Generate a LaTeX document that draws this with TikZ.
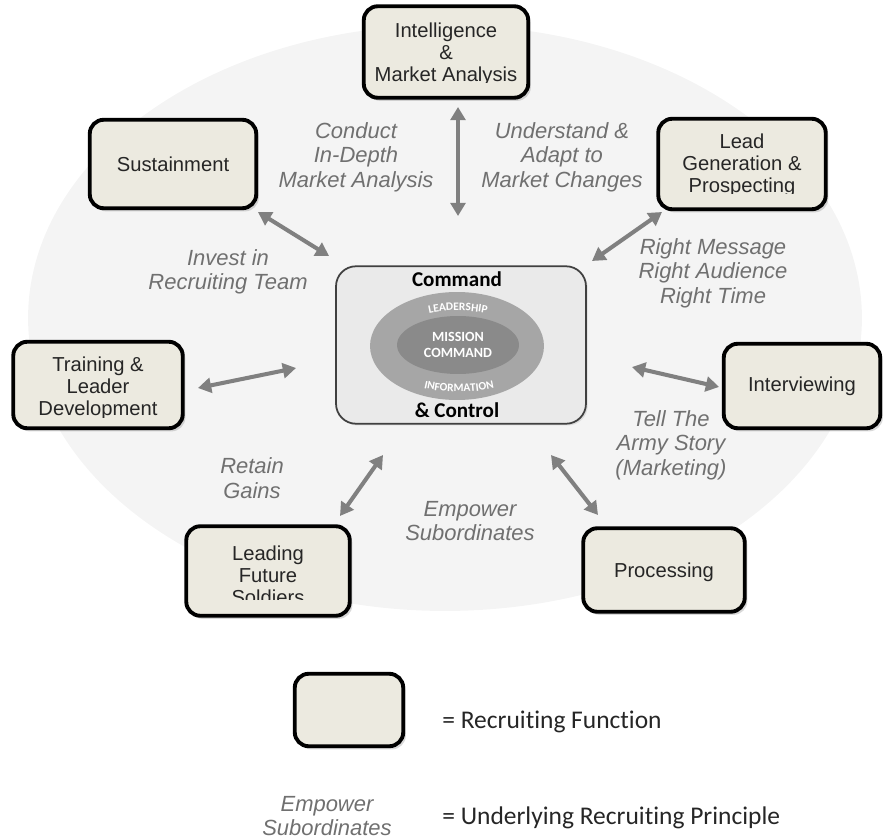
\documentclass[tikz,border=0pt]{standalone}
\usepackage{fontspec}
\setmainfont{Liberation Sans}
\newfontfamily\cfont[Ligatures=NoCommon]{Carlito}
\usetikzlibrary{arrows.meta,shadows,decorations.text,shapes.geometric}
\definecolor{bgell}{RGB}{244,244,244}
\definecolor{boxfill}{RGB}{236,234,224}
\definecolor{arrgray}{RGB}{128,128,128}
\definecolor{lblgray}{RGB}{112,112,112}
\definecolor{ccfill}{RGB}{234,234,234}
\definecolor{ringA}{RGB}{166,166,166}
\definecolor{ringB}{RGB}{138,138,138}
\begin{document}
\begin{tikzpicture}[x=0.02cm,y=-0.02cm,
  fbox/.style={draw=black, line width=2.2pt, fill=boxfill, rounded corners=0.28cm,
    drop shadow={shadow xshift=1.5pt,shadow yshift=-1.8pt,opacity=0.3}},
  ftext/.style={align=center, font=\fontsize{11.5}{12.6}\selectfont, text=black!85, inner sep=0pt},
  lbl/.style={align=center, font=\itshape\fontsize{12.5}{13.9}\selectfont, text=lblgray, inner sep=0pt},
  arr/.style={draw=arrgray, line width=2.3pt, {Triangle[length=7.5pt,width=8.5pt]}-{Triangle[length=7.5pt,width=8.5pt]}},
  legtext/.style={font=\cfont\fontsize{14.5}{16}\selectfont, text=black!85, inner sep=0pt, anchor=west}]
\useasboundingbox (0,0) rectangle (883,838);
% background ellipse
\node[ellipse, fill=bgell, minimum width=16.68cm, minimum height=11.72cm, inner sep=0pt] (bg) at (445,318) {};

% centre
\node[draw=black!75, line width=1pt, fill=ccfill, rounded corners=0.4cm, minimum width=5.0cm, minimum height=3.15cm,
  drop shadow={shadow xshift=1pt,shadow yshift=-1pt,opacity=0.2}] (cc) at (461,345) {};
\node[ellipse, fill=ringA, minimum width=3.48cm, minimum height=2.16cm, inner sep=0pt] (ringout) at (457,346) {};
\node[ellipse, fill=ringB, minimum width=2.44cm, minimum height=1.16cm, inner sep=0pt] (ringin) at (458,345) {};
\node[font=\cfont\bfseries\fontsize{8}{9.5}\selectfont, text=white, align=center, inner sep=0pt] (mc) at (458,345) {MISSION\\COMMAND};
\node[font=\cfont\bfseries\fontsize{12}{14}\selectfont, inner sep=0pt] (cmd) at (457,279) {Command};
\node[font=\cfont\bfseries\fontsize{12}{14}\selectfont, inner sep=0pt] (ctl) at (457,410) {\& Control};
\path[decorate, decoration={text along path, text align=center,
  text={|\cfont\bfseries\fontsize{6.5}{7}\selectfont\color{white}|LEADERSHIP}}]
  (408,321) .. controls (433,307) and (483,307) .. (508,321);
\path[decorate, decoration={text along path, text align=center,
  text={|\cfont\bfseries\fontsize{6.5}{7}\selectfont\color{white}|INFORMATION}}]
  (408,383) .. controls (435,395) and (483,395) .. (510,383);

% function boxes
\node[fbox, minimum width=3.29cm, minimum height=1.83cm] (int) at (446,52) {};
\node[fbox, minimum width=3.33cm, minimum height=1.77cm] (sus) at (173,164) {};
\node[fbox, minimum width=3.35cm, minimum height=1.81cm] (lead) at (742,164) {};
\node[fbox, minimum width=3.39cm, minimum height=1.73cm] (train) at (98,385) {};
\node[fbox, minimum width=3.13cm, minimum height=1.69cm] (interv) at (802,386) {};
\node[fbox, minimum width=3.27cm, minimum height=1.79cm] (lfs) at (268,571) {};
\node[fbox, minimum width=3.23cm, minimum height=1.67cm] (proc) at (664,570) {};

\begin{scope}
  \clip (355,0) rectangle (540,83);
  \node[ftext] (intT) at (446,54) {Intelligence\\\&\\Market Analysis};
\end{scope}
\node[ftext] (susT) at (173,164) {Sustainment};
\begin{scope}
  \clip (650,100) rectangle (840,194);
  \node[ftext] (leadT) at (742,165) {Lead\\Generation \&\\Prospecting};
\end{scope}
\begin{scope}
  \clip (0,330) rectangle (195,417);
  \node[ftext] (trainT) at (98,388) {Training \&\\Leader\\Development};
\end{scope}
\node[ftext] (intervT) at (802,386) {Interviewing};
\begin{scope}
  \clip (180,510) rectangle (360,599);
  \node[ftext] (lfsT) at (268,575) {Leading\\Future\\Soldiers};
\end{scope}
\node[ftext] (procT) at (664,572) {Processing};

% arrows
\coordinate (aI1) at (458,107); \coordinate (aI2) at (458,216);
\coordinate (aS1) at (258,212); \coordinate (aS2) at (329,256);
\coordinate (aL1) at (662,212); \coordinate (aL2) at (592,261);
\coordinate (aT1) at (198,388); \coordinate (aT2) at (296,368);
\coordinate (aV1) at (632,367); \coordinate (aV2) at (719,387);
\coordinate (aF1) at (383,455); \coordinate (aF2) at (340,516);
\coordinate (aP1) at (551,455); \coordinate (aP2) at (598,515);
\draw[arr] (aI1) -- (aI2);
\draw[arr] (aS1) -- (aS2);
\draw[arr] (aL1) -- (aL2);
\draw[arr] (aT1) -- (aT2);
\draw[arr] (aV1) -- (aV2);
\draw[arr] (aF1) -- (aF2);
\draw[arr] (aP1) -- (aP2);

% principle labels
\node[lbl] (lConduct) at (356,157) {Conduct\\In-Depth\\Market Analysis};
\node[lbl] (lUnder) at (562,157) {Understand \&\\Adapt to\\Market Changes};
\node[lbl] (lInvest) at (228,272) {Invest in\\Recruiting Team};
\node[lbl] (lRight) at (713,273) {Right Message\\Right Audience\\Right Time};
\node[lbl] (lTell) at (671,445) {Tell The\\Army Story\\(Marketing)};
\node[lbl] (lRetain) at (252,478) {Retain\\Gains};
\node[lbl] (lEmpower) at (470,521) {Empower\\Subordinates};

% legend
\node[fbox, minimum width=2.17cm, minimum height=1.45cm] (leg) at (349,710) {};
\node[legtext] (legF) at (442,722) {= Recruiting Function};
\node[lbl] (legE) at (327,816) {Empower\\Subordinates};
\node[legtext] (legP) at (442,818) {= Underlying Recruiting Principle};
\end{tikzpicture}
\end{document}
